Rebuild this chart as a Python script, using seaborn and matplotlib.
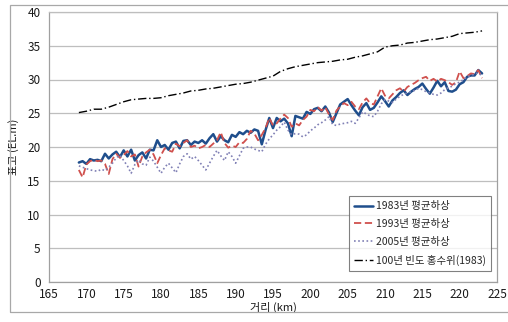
import numpy as np
import pandas as pd
import matplotlib
matplotlib.use("Agg")
import matplotlib.pyplot as plt
import seaborn as sns
from matplotlib.patches import Rectangle

# ---------------- data ----------------
km = [169.0 + 0.5 * i for i in range(109)]

bed_1983 = [17.7, 17.9, 17.5, 18.2, 18.0, 18.1, 17.9, 19.0, 18.3, 18.9,
            19.3, 18.5, 19.5, 18.6, 19.6, 18.0, 18.8, 19.2, 18.3, 19.6,
            19.5, 21.0, 20.0, 20.3, 19.6, 20.6, 20.8, 19.8, 20.9, 21.0,
            20.3, 20.8, 20.6, 21.0, 20.5, 21.3, 21.9, 20.8, 21.6, 21.0,
            20.7, 21.8, 21.5, 22.2, 21.9, 22.4, 22.1, 22.6, 22.4, 20.4,
            22.5, 24.3, 22.8, 24.3, 23.8, 24.2, 23.5, 21.6, 24.6, 24.4,
            24.2, 25.2, 24.9, 25.6, 25.8, 25.3, 26.0, 25.1, 23.7, 25.0,
            26.3, 26.7, 27.1, 26.2, 25.4, 24.7, 25.9, 26.5, 25.5, 25.8,
            26.6, 27.5, 26.8, 26.0, 26.9, 27.4, 28.0, 28.4, 27.7, 28.2,
            28.6, 28.9, 29.4, 28.6, 27.9, 28.8, 29.8, 29.0, 29.6, 28.3,
            28.2, 28.5, 29.3, 29.6, 30.4, 30.6, 30.6, 31.4, 30.9]

bed_1993 = [16.6, 15.5, 17.4, 17.9, 18.1, 17.9, 18.0, 17.5, 16.0, 18.2,
            19.0, 18.4, 18.8, 19.4, 18.6, 18.9, 17.1, 18.6, 19.2, 19.6,
            18.9, 17.6, 18.8, 19.8, 19.5, 19.3, 20.5, 20.1, 20.6, 21.0,
            20.0, 20.2, 19.8, 20.0, 20.3, 20.0, 20.5, 21.0, 22.2, 20.6,
            19.9, 20.2, 20.0, 20.7, 20.6, 21.2, 22.4, 22.0, 21.0, 21.8,
            22.8, 24.3, 23.2, 23.5, 24.2, 24.8, 24.3, 23.0, 23.5, 23.2,
            24.0, 24.5, 25.5, 25.3, 25.9, 25.4, 25.9, 24.8, 24.0, 25.4,
            26.0, 26.5, 26.2, 26.7, 26.0, 25.6, 26.6, 27.2, 26.5, 26.3,
            27.5, 28.7, 27.6, 27.2, 27.8, 28.4, 28.7, 28.2, 28.9, 29.2,
            29.5, 29.9, 30.2, 30.4, 29.8, 30.1, 29.7, 30.1, 29.9, 29.6,
            29.2, 29.6, 31.2, 30.2, 30.5, 30.9, 30.8, 31.4, 30.2]

bed_2005 = [17.2, 17.0, 16.8, 16.6, 16.5, 16.4, 16.7, 16.5, 17.0, 17.6,
            18.4, 18.8, 18.0, 17.2, 16.1, 17.4, 18.1, 17.5, 17.3, 18.5,
            17.9, 17.0, 16.1, 17.0, 17.6, 16.9, 16.2, 17.5, 18.6, 19.0,
            18.2, 18.6, 18.0, 17.3, 16.6, 17.6, 18.6, 19.5, 18.7, 18.0,
            19.3, 18.6, 17.6, 18.7, 19.8, 20.0, 20.0, 19.7, 19.5, 19.3,
            20.4, 21.2, 21.8, 22.5, 23.0, 23.7, 22.5, 21.8, 22.0, 21.9,
            21.5, 21.8, 22.4, 22.8, 23.3, 23.6, 24.0, 24.5, 23.3, 23.2,
            23.4, 23.5, 23.6, 23.8, 23.5, 24.3, 25.2, 24.9, 24.6, 24.5,
            25.3, 26.4, 27.0, 26.8, 26.6, 27.1, 27.5, 27.8, 28.0, 28.2,
            28.4, 28.7, 28.5, 28.2, 28.0, 27.8, 27.7, 28.0, 28.5, 28.8,
            29.0, 29.4, 29.6, 30.0, 30.4, 30.6, 30.8, 31.0, 30.5]

km_flood = list(range(169, 224))
flood_1983 = [25.1, 25.3, 25.6, 25.6, 25.9, 26.3, 26.7, 27.0, 27.1, 27.2,
              27.2, 27.3, 27.6, 27.8, 28.0, 28.3, 28.4, 28.6, 28.7, 28.9,
              29.1, 29.3, 29.4, 29.6, 29.9, 30.2, 30.5, 31.2, 31.6, 31.9,
              32.1, 32.3, 32.5, 32.6, 32.7, 32.9, 33.0, 33.3, 33.5, 33.8,
              34.1, 34.8, 35.0, 35.1, 35.4, 35.5, 35.7, 35.9, 36.0, 36.2,
              36.4, 36.8, 36.9, 37.0, 37.2]

labels = ["1983년 평균하상", "1993년 평균하상", "2005년 평균하상", "100년 빈도 홍수위(1983)"]
xticks = list(range(165, 226, 5))
yticks = list(range(0, 41, 5))

# ---------------- style ----------------
sns.set_style("white")
plt.rcParams['font.family'] = ['Noto Sans CJK KR', 'DejaVu Sans']

fig = plt.figure(figsize=(5.08, 3.22), dpi=100)
ax = fig.add_axes([49 / 508, 1 - 282 / 322, (497 - 49) / 508, (282 - 12) / 322])

df_b = pd.DataFrame({"km": km, "1983": bed_1983, "1993": bed_1993, "2005": bed_2005})
df_f = pd.DataFrame({"km": km_flood, "flood": flood_1983})

sns.lineplot(data=df_b, x="km", y="1983", ax=ax, color="#1F4E8C", lw=1.8,
             label=labels[0])
sns.lineplot(data=df_b, x="km", y="1993", ax=ax, color="#D0504D", lw=1.3,
             label=labels[1]).lines[-1].set_linestyle((0, (4, 2)))
sns.lineplot(data=df_b, x="km", y="2005", ax=ax, color="#8080B5", lw=1.2,
             label=labels[2]).lines[-1].set_linestyle((0, (1, 1.5)))
sns.lineplot(data=df_f, x="km", y="flood", ax=ax, color="black", lw=1.0,
             label=labels[3]).lines[-1].set_linestyle((0, (6, 2, 1, 2)))

ax.set_xlim(165, 225)
ax.set_ylim(0, 40)
ax.set_xticks(xticks)
ax.set_yticks(yticks)
ax.yaxis.grid(True, color="#BEBEBE", lw=0.9)
ax.xaxis.grid(False)
for s in ["left", "bottom", "right", "top"]:
    ax.spines[s].set_visible(True)
    ax.spines[s].set_color("#A0A0A0")
    ax.spines[s].set_linewidth(0.9)
ax.spines["top"].set_color("#BEBEBE")
ax.tick_params(axis="both", labelsize=8.5, colors="#A0A0A0", labelcolor="#1A1A1A",
               length=3, width=0.8)
ax.tick_params(axis="x", direction="inout", length=4, pad=2)
ax.tick_params(axis="y", direction="out", pad=3)

ax.set_xlabel("거리 (km)", fontsize=8, color="#1A1A1A", labelpad=1)
ax.set_ylabel("표고 (EL.m)", fontsize=8, color="#1A1A1A", labelpad=6)

leg = ax.legend(loc="lower right", bbox_to_anchor=((491 - 49) / 448, (282 - 271) / 270),
                fontsize=7.5, frameon=True, fancybox=False, handlelength=1.8,
                handletextpad=0.3, borderpad=0.5, labelspacing=0.75, borderaxespad=0)
leg.get_frame().set_edgecolor("#606060")
leg.get_frame().set_linewidth(0.8)

# outer chart border
fig.patches.append(Rectangle((10 / 508, 1 - 312 / 322), 1.2, (312 - 5) / 322,
                             transform=fig.transFigure, fill=False,
                             edgecolor="#A8A8A8", lw=0.9, zorder=0))

fig.savefig("out.png", dpi=100)
